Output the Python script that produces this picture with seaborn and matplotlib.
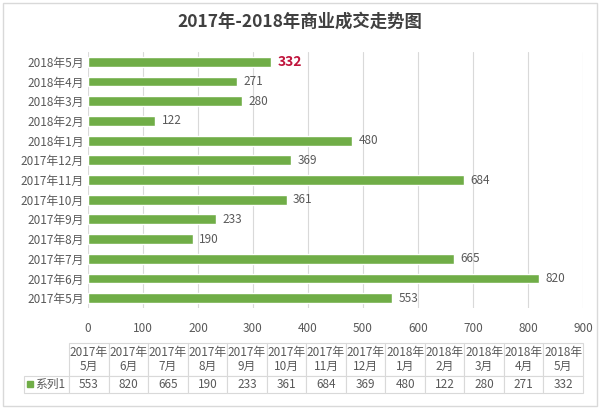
import matplotlib
matplotlib.use('Agg')
import matplotlib.pyplot as plt
import seaborn as sns
import pandas as pd
from matplotlib.patches import Rectangle

# ─── data ────────────────────────────────────────────────────────────────────
months = ["2017年5月", "2017年6月", "2017年7月", "2017年8月", "2017年9月",
          "2017年10月", "2017年11月", "2017年12月", "2018年1月", "2018年2月",
          "2018年3月", "2018年4月", "2018年5月"]
values = [553, 820, 665, 190, 233, 361, 684, 369, 480, 122, 280, 271, 332]
series_name = "系列1"
title = "2017年-2018年商业成交走势图"
xticks = [0, 100, 200, 300, 400, 500, 600, 700, 800, 900]

GREEN = "#70AD47"
GRAY = "#595959"

sns.set_theme(style="white")
plt.rcParams['font.family'] = ['Noto Sans CJK SC', 'DejaVu Sans']

df = pd.DataFrame({"month": months, "value": values})
order = months[::-1]  # latest month on top

fig = plt.figure(figsize=(6, 4.11), dpi=100)
W, H = 600, 411

# chart border
fig.patches.append(Rectangle((3 / W, 1 - 406 / H), 594 / W, 403 / H,
                             transform=fig.transFigure, fill=False,
                             edgecolor="#d9d9d9", linewidth=1))

ax = fig.add_axes([88 / W, 1 - 308 / H, 495 / W, 256 / H])
sns.barplot(data=df, x="value", y="month", order=order, orient="h",
            color=GREEN, saturation=1, width=0.5, ax=ax)

ax.set_xlim(0, 900)
ax.set_xticks(xticks)
ax.set_xticklabels([str(t) for t in xticks])
ax.grid(axis="x", color="#d9d9d9", linewidth=0.8)
ax.set_axisbelow(True)
for s in ax.spines.values():
    s.set_visible(False)
ax.set_xlabel("")
ax.set_ylabel("")
ax.tick_params(axis="x", length=0, labelsize=8.5, labelcolor=GRAY, pad=10)
ax.tick_params(axis="y", length=0, labelsize=8.5, labelcolor=GRAY, pad=3)

for i, m in enumerate(order):
    v = values[months.index(m)]
    if m == "2018年5月":
        ax.text(v + 12, i, str(v), va="center", ha="left", fontsize=10,
                fontweight="bold", color="#C0143C")
    else:
        ax.text(v + 12, i, str(v), va="center", ha="left", fontsize=8.5,
                color=GRAY)

fig.text(0.5, 1 - 22 / H, title, ha="center", va="center", fontsize=12.5,
         fontweight="bold", color="#404040")

# ─── data table ──────────────────────────────────────────────────────────────
tax = fig.add_axes([24 / W, 1 - 393 / H, 559 / W, 50 / H])
tax.axis("off")
col_labels = [""] + [m.replace("年", "年\n") for m in months]
cells = [[""] + [str(v) for v in values]]
label_w = 45 / 559
col_w = (1 - label_w) / len(months)
tbl = tax.table(cellText=[col_labels] + cells,
                colWidths=[label_w] + [col_w] * len(months),
                cellLoc="center", bbox=[0, 0, 1, 1])
tbl.auto_set_font_size(False)
for (r, c), cell in tbl.get_celld().items():
    cell.set_edgecolor("#d9d9d9")
    cell.set_linewidth(0.8)
    cell.get_text().set_color(GRAY)
    cell.get_text().set_fontsize(8.5)
    if r == 0:
        cell.set_height(33 / 50)
        cell.get_text().set_linespacing(1.05)
    else:
        cell.set_height(17 / 50)
    if r == 0 and c == 0:
        cell.visible_edges = ""
# legend key for the series row
fig.patches.append(Rectangle((27 / W, 1 - 387 / H), 6 / W, 6 / H,
                             transform=fig.transFigure, color=GREEN))
fig.text(35 / W, 1 - 384 / H, series_name, color=GRAY, fontsize=8.5,
         va="center", ha="left")

fig.savefig("out.png", dpi=100)
